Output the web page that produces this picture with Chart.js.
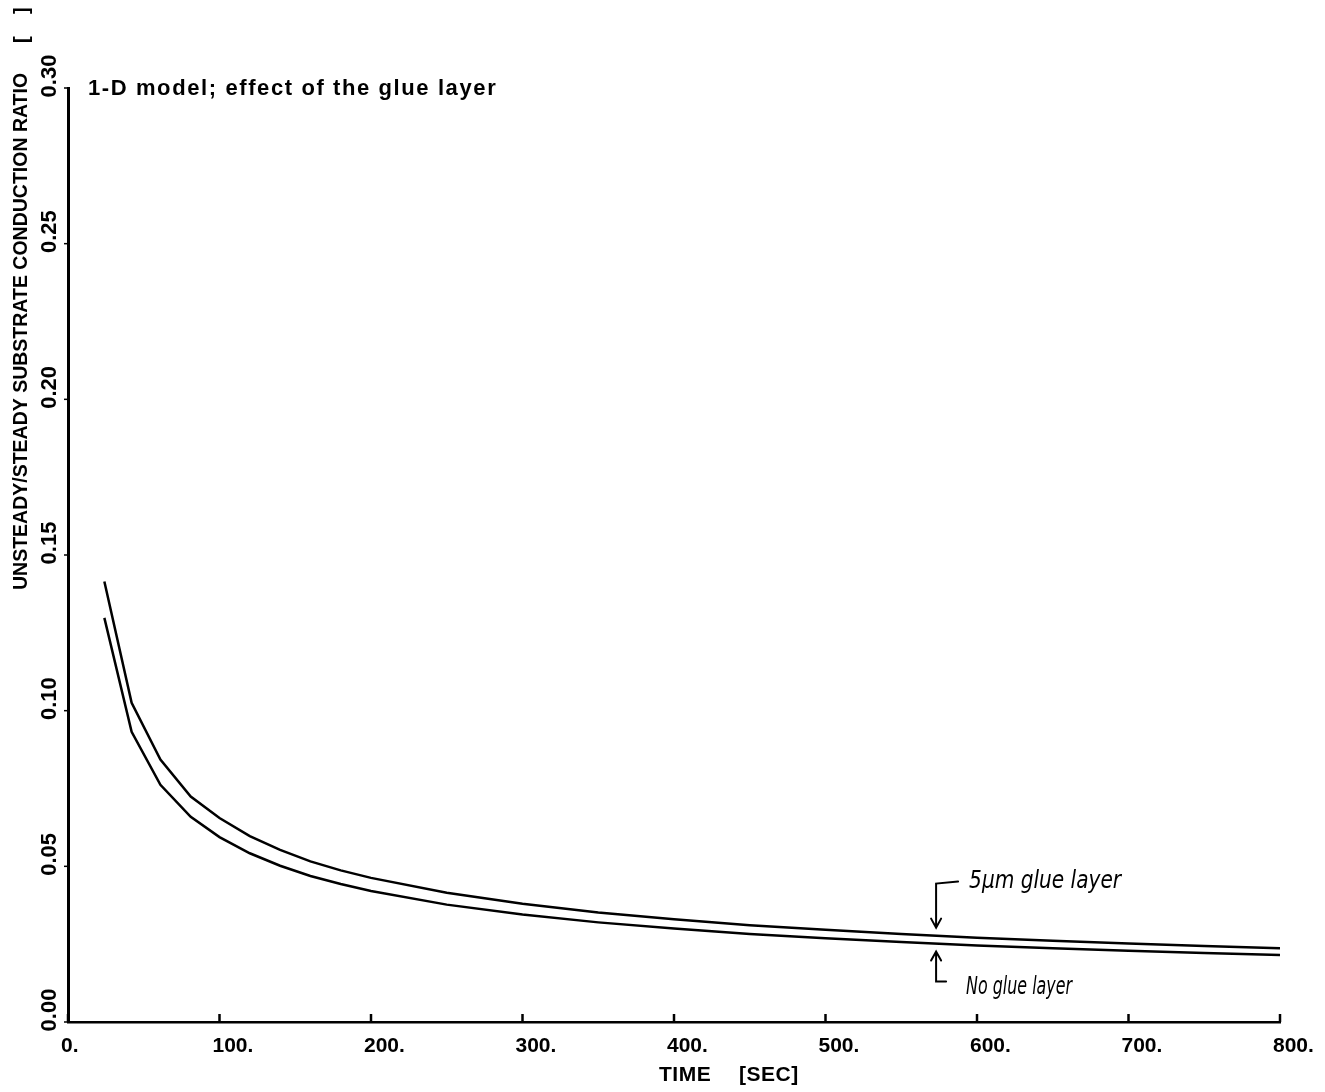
<!DOCTYPE html>
<html>
<head>
<meta charset="utf-8">
<script src="https://cdn.jsdelivr.net/npm/chart.js@4"></script>
<style>
  html, body { margin: 0; padding: 0; background: #fff; }
  #wrap { width: 1325px; height: 1092px; position: relative; }
</style>
</head>
<body>
<div id="wrap"><canvas id="chart"></canvas></div>
<script>
// time [sec]
const times = [24, 42, 61, 81, 100, 120, 140, 160, 180, 200, 250, 300, 350, 400, 450, 500, 550, 600, 650, 700, 750, 800];
// 5 um glue layer
const glueLayer = [0.1415, 0.1025, 0.0843, 0.0724, 0.0655, 0.0597, 0.0553, 0.0516, 0.0487, 0.0463, 0.0415, 0.0380, 0.0352, 0.0330, 0.0311, 0.0296, 0.0283, 0.0271, 0.0261, 0.0252, 0.0244, 0.0237];
// no glue layer
const noGlue = [0.1298, 0.0932, 0.0762, 0.0659, 0.0594, 0.0542, 0.0502, 0.0469, 0.0443, 0.0421, 0.0377, 0.0345, 0.0320, 0.0300, 0.0283, 0.0269, 0.0257, 0.0246, 0.0237, 0.0229, 0.0222, 0.0215];

const xTicks = [0, 100, 200, 300, 400, 500, 600, 700, 800];
const yTicks = [0.00, 0.05, 0.10, 0.15, 0.20, 0.25, 0.30];

const chartTitle = '1-D model; effect of the glue layer';
const yTitle = 'UNSTEADY/STEADY SUBSTRATE CONDUCTION RATIO';
const yUnit = '[    ]';
const xTitle = 'TIME';
const xUnit = '[SEC]';
const noteTime = 573;
const noteUpper = '5\u03bcm glue layer';
const noteLower = 'No glue layer';

const toPoints = (ys) => times.map((t, i) => ({ x: t, y: ys[i] }));

const interp = (ys, t) => {
    for (let i = 0; i < times.length - 1; i++) {
        if (t >= times[i] && t <= times[i + 1]) {
            const f = (t - times[i]) / (times[i + 1] - times[i]);
            return ys[i] + f * (ys[i + 1] - ys[i]);
        }
    }
    return ys[ys.length - 1];
};

const sans = '"Liberation Sans", Arial, sans-serif';
const hand = '"DejaVu Sans", sans-serif';

// fit a text to a wanted width by changing the font size
const fitFont = (ctx, text, style, family, width, maxSize) => {
    let size = maxSize;
    ctx.font = style + ' ' + size + 'px ' + family;
    while (ctx.measureText(text).width > width && size > 8) {
        size -= 0.5;
        ctx.font = style + ' ' + size + 'px ' + family;
    }
};

// narrow, tall text like the hand lettering: squeeze it to a width
const squeezeText = (ctx, text, x, y, width) => {
    const w = ctx.measureText(text).width;
    ctx.save();
    ctx.translate(x, y);
    ctx.scale(width / w, 1);
    ctx.fillText(text, 0, 0);
    ctx.restore();
};

// draws rotated y labels, inner ticks, titles and the hand notes
const extras = {
    id: 'extras',
    afterDraw(chart) {
        const { ctx, chartArea } = chart;
        const xs = chart.scales.x;
        const ys = chart.scales.y;
        ctx.save();
        ctx.fillStyle = '#000';
        ctx.strokeStyle = '#000';

        // x ticks pointing into the plot
        ctx.lineWidth = 2.5;
        xTicks.forEach(v => {
            const px = xs.getPixelForValue(v);
            ctx.beginPath();
            ctx.moveTo(px, chartArea.bottom);
            ctx.lineTo(px, chartArea.bottom - 8);
            ctx.stroke();
        });

        // small y ticks
        ctx.lineWidth = 1.5;
        yTicks.forEach(v => {
            const py = ys.getPixelForValue(v);
            ctx.beginPath();
            ctx.moveTo(chartArea.left - 4, py);
            ctx.lineTo(chartArea.left, py);
            ctx.stroke();
        });

        // rotated y tick labels
        ctx.font = 'bold 22px ' + sans;
        ctx.textAlign = 'center';
        ctx.textBaseline = 'middle';
        yTicks.forEach(v => {
            const py = ys.getPixelForValue(v);
            ctx.save();
            ctx.translate(chartArea.left - 18, py - 12);
            ctx.rotate(-Math.PI / 2);
            ctx.fillText(v.toFixed(2), 0, 0);
            ctx.restore();
        });

        // y axis title
        ctx.save();
        ctx.translate(22, 590);
        ctx.rotate(-Math.PI / 2);
        ctx.textAlign = 'left';
        fitFont(ctx, yTitle, 'bold', sans, 523, 22);
        ctx.fillText(yTitle, 0, 0);
        ctx.font = 'bold 20px ' + sans;
        ctx.fillText(yUnit, 547, 0);
        ctx.restore();

        // chart title
        ctx.textAlign = 'left';
        ctx.textBaseline = 'alphabetic';
        ctx.font = 'bold 22px ' + sans;
        ctx.letterSpacing = '1.6px';
        ctx.fillText(chartTitle, 88, 95);

        // x axis title
        ctx.font = 'bold 21px ' + sans;
        ctx.letterSpacing = '0.5px';
        ctx.textBaseline = 'middle';
        const cx = (chartArea.left + chartArea.right) / 2;
        ctx.fillText(xTitle, cx - 15, 1075);
        ctx.fillText(xUnit, cx + 65, 1075);
        ctx.letterSpacing = '0px';

        // hand-written notes with arrows
        const ax = xs.getPixelForValue(noteTime);
        const yu = ys.getPixelForValue(interp(glueLayer, noteTime));
        const yl = ys.getPixelForValue(interp(noGlue, noteTime));
        ctx.lineWidth = 2;
        ctx.lineCap = 'round';

        const topU = yu - 52;
        ctx.beginPath();
        ctx.moveTo(ax + 22, topU - 2);
        ctx.lineTo(ax, topU);
        ctx.lineTo(ax, yu - 8);
        ctx.moveTo(ax - 5, yu - 17);
        ctx.lineTo(ax, yu - 8);
        ctx.lineTo(ax + 5, yu - 17);
        ctx.stroke();

        const botL = yl + 38;
        ctx.beginPath();
        ctx.moveTo(ax - 5, yl + 17);
        ctx.lineTo(ax, yl + 8);
        ctx.lineTo(ax + 5, yl + 17);
        ctx.moveTo(ax, yl + 8);
        ctx.lineTo(ax, botL);
        ctx.lineTo(ax + 10, botL);
        ctx.stroke();

        ctx.textBaseline = 'middle';
        ctx.font = 'italic 24px ' + hand;
        squeezeText(ctx, noteUpper, ax + 33, topU - 2, 152);
        squeezeText(ctx, noteLower, ax + 30, botL + 6, 106);

        ctx.restore();
    }
};

const ctx = document.getElementById('chart').getContext('2d');
new Chart(ctx, {
    type: 'scatter',
    data: {
        datasets: [
            {
                label: '5 um glue layer',
                data: toPoints(glueLayer),
                showLine: true,
                borderColor: '#000',
                borderWidth: 2.5,
                pointRadius: 0,
                tension: 0,
            },
            {
                label: 'No glue layer',
                data: toPoints(noGlue),
                showLine: true,
                borderColor: '#000',
                borderWidth: 2.5,
                pointRadius: 0,
                tension: 0,
            },
        ],
    },
    options: {
        responsive: true,
        maintainAspectRatio: false,
        animation: false,
        layout: { padding: { left: 68, right: 45, top: 88, bottom: 0 } },
        plugins: {
            legend: { display: false },
            tooltip: { enabled: false },
        },
        scales: {
            x: {
                type: 'linear',
                min: 0,
                max: 800,
                afterBuildTicks: (scale) => { scale.ticks = xTicks.map(v => ({ value: v })); },
                afterFit: (scale) => {
                    scale.height = 70;
                    scale.paddingLeft = 0;
                    scale.paddingRight = 0;
                },
                grid: { display: false, drawTicks: false },
                border: { display: true, color: '#000', width: 2.5 },
                ticks: {
                    color: '#000',
                    padding: 12,
                    maxRotation: 0,
                    align: 'start',
                    labelOffset: -7,
                    font: { family: sans, size: 21, weight: 'bold' },
                    callback: (v) => v + '.',
                },
                title: { display: false },
            },
            y: {
                type: 'linear',
                min: 0,
                max: 0.30,
                afterFit: (scale) => { scale.width = 0; },
                grid: { display: false, drawTicks: false },
                border: { display: true, color: '#000', width: 3 },
                ticks: { display: false },
            },
        },
    },
    plugins: [extras],
});
</script>
</body>
</html>
